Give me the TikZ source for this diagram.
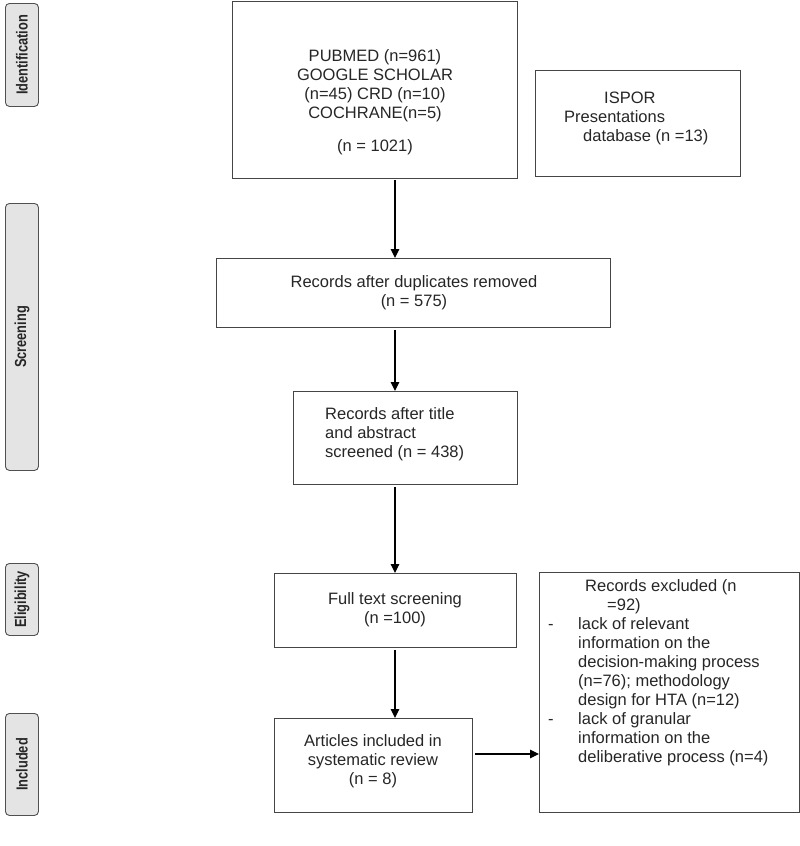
\documentclass[tikz,border=0pt]{standalone}
\usepackage{fontspec}
\setmainfont{Liberation Sans}
\newfontfamily\stagefont[FakeStretch=0.8]{Liberation Sans}
\usetikzlibrary{arrows.meta}
\definecolor{boxline}{HTML}{454545}
\definecolor{stagefill}{HTML}{E4E4E4}
\definecolor{stageline}{HTML}{505050}
\begin{document}
\begin{tikzpicture}[x=1pt,y=-1pt,
  flowbox/.style={draw=boxline, line width=0.9pt, inner sep=0pt, anchor=north west},
  stagebox/.style={draw=stageline, fill=stagefill, rounded corners=4pt, line width=0.9pt,
    anchor=north west, minimum width=33pt, inner sep=0pt},
  stagetext/.style={rotate=90, inner sep=0pt, text=black!85,
    font=\stagefont\bfseries\fontsize{16}{18}\selectfont},
  txt/.style={inner sep=0pt, text=black!85, font=\fontsize{16.5}{19}\selectfont},
  flowarrow/.style={line width=1.1pt, shorten <=2pt, -{Triangle[length=9pt,width=8.5pt]}}]
\useasboundingbox (0,0) rectangle (800,846);

% stage labels
\node[stagebox, minimum height=103pt] (sid) at (5,3) {};
\node[stagetext] (tid) at (sid.center) {Identification};
\node[stagebox, minimum height=267pt] (ssc) at (5,203) {};
\node[stagetext] (tsc) at (ssc.center) {Screening};
\node[stagebox, minimum height=72pt] (sel) at (5,563) {};
\node[stagetext] (tel) at (sel.center) {Eligibility};
\node[stagebox, minimum height=102pt] (sin) at (5,713) {};
\node[stagetext] (tin) at (sin.center) {Included};

% flow boxes
\node[flowbox, minimum width=285pt, minimum height=177pt] (src) at (232,0.5) {};
\node[txt, align=center, anchor=north] (srct) at (375,61-13.3)
  {\strut PUBMED (n=961)\\GOOGLE SCHOLAR\\(n=45) CRD (n=10)\\COCHRANE(n=5)\\[14pt](n = 1021)};

\node[flowbox, minimum width=205pt, minimum height=106pt] (isp) at (535,70) {};
\node[txt, align=left, anchor=north west] (ispt) at (564,103-13.3)
  {\strut\hspace*{40pt}ISPOR\\Presentations\\\hspace*{19pt}database (n =13)};

\node[flowbox, minimum width=394pt, minimum height=69pt] (dup) at (216,258) {};
\node[txt, align=center, anchor=north] (dupt) at (414,287-13.3)
  {\strut Records after duplicates removed\\(n = 575)};

\node[flowbox, minimum width=224pt, minimum height=93pt] (tit) at (293,391) {};
\node[txt, align=left, anchor=north west] (titt) at (325,419-13.3)
  {\strut Records after title\\and abstract\\screened (n = 438)};

\node[flowbox, minimum width=242pt, minimum height=74pt] (ful) at (274,573) {};
\node[txt, align=center, anchor=north] (fult) at (395,604-13.3)
  {\strut Full text screening\\(n =100)};

\node[flowbox, minimum width=198pt, minimum height=94pt] (art) at (274,718) {};
\node[txt, align=center, anchor=north] (artt) at (373,746-13.3)
  {\strut Articles included in\\systematic review\\(n = 8)};

\node[flowbox, minimum width=260pt, minimum height=240pt] (exc) at (539,572) {};
\node[txt, align=left, anchor=north west] (exct) at (548,591-13.3)
  {\strut\hspace*{37pt}Records excluded (n\\
   \hspace*{59pt}=92)\\
   \makebox[30pt][l]{-}lack of relevant\\
   \hspace*{30pt}information on the\\
   \hspace*{30pt}decision-making process\\
   \hspace*{30pt}(n=76); methodology\\
   \hspace*{30pt}design for HTA (n=12)\\
   \makebox[30pt][l]{-}lack of granular\\
   \hspace*{30pt}information on the\\
   \hspace*{30pt}deliberative process (n=4)};

% connectors
\coordinate (ax) at (395,0);
\coordinate (ay) at (0,754);
\draw[flowarrow] (src.south -| ax) -- (dup.north -| ax);
\draw[flowarrow] (dup.south -| ax) -- (tit.north -| ax);
\draw[flowarrow] (tit.south -| ax) -- (ful.north -| ax);
\draw[flowarrow] (ful.south -| ax) -- (art.north -| ax);
\draw[flowarrow] (art.east |- ay) -- (exc.west |- ay);
\end{tikzpicture}
\end{document}
